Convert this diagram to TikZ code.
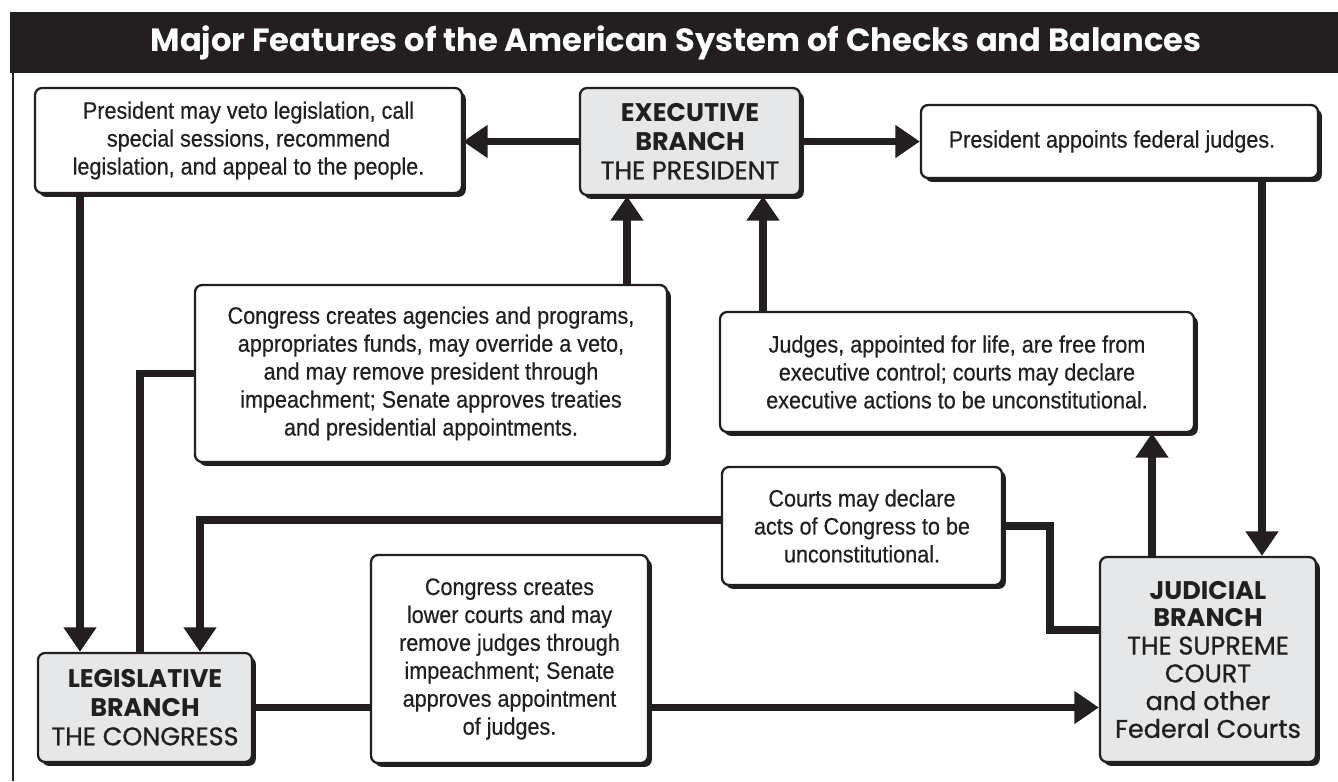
\documentclass[tikz,border=0pt]{standalone}
\usepackage{fontspec}
\setmainfont{Liberation Sans}[FakeStretch=0.91,FakeBold=0.5]
\newfontfamily\brfont{Poppins}[UprightFeatures={FakeBold=0.9}]
\usetikzlibrary{arrows.meta}
\usetikzlibrary{shadows}
\definecolor{ink}{HTML}{231F20}
\definecolor{branchgray}{HTML}{E6E7E8}

\begin{document}
\begin{tikzpicture}[x=0.02cm,y=-0.02cm,
  box/.style={draw=ink,line width=1.3pt,rounded corners=4pt,fill=white,align=center,inner sep=0pt,
    drop shadow={shadow xshift=2.2pt,shadow yshift=-2.2pt,fill=ink,opacity=1},
    font=\fontsize{13.5}{15.9}\selectfont,text=ink},
  branch/.style={box,fill=branchgray,font=\brfont\fontsize{14.5}{16.4}\selectfont},
  link/.style={draw=ink,line width=4.5pt},
  arr/.style={link,-{Triangle[width=18pt,length=14pt]}}]
\useasboundingbox (0,0) rectangle (1338,781);

% ---------- frame and title ----------
\fill[ink] (10,12) rectangle (1338,73);
\draw[ink,line width=1.1pt] (13,73) -- (13,781);
\node[text=white,font=\brfont\bfseries\fontsize{18.3}{20}\selectfont] (title) at (676,43)
  {Major Features of the American System of Checks and Balances};

% ---------- boxes ----------
\node[branch,minimum width=4.4cm,minimum height=2.14cm] (exec) at (690,141.5)
  {{\bfseries EXECUTIVE}\\{\bfseries BRANCH}\\THE PRESIDENT};
\node[branch,minimum width=4.28cm,minimum height=2.18cm] (legis) at (145,707.5)
  {{\bfseries LEGISLATIVE}\\{\bfseries BRANCH}\\THE CONGRESS};
\node[branch,minimum width=4.32cm,minimum height=4.1cm,font=\brfont\fontsize{14.5}{15.8}\selectfont] (judic) at (1208,659.5)
  {{\bfseries JUDICIAL}\\{\bfseries BRANCH}\\THE SUPREME\\COURT\\and other\\Federal Courts};

\node[box,minimum width=8.54cm,minimum height=2.1cm] (veto) at (248.5,140.5)
  {President may veto legislation, call\\special sessions, recommend\\legislation, and appeal to the people.};
\node[box,minimum width=7.94cm,minimum height=1.46cm] (appoint) at (1119.5,141.5)
  {President appoints federal judges.\hspace*{0.3cm}};
\node[box,minimum width=9.44cm,minimum height=3.54cm] (agencies) at (431,373.5)
  {Congress creates agencies and programs,\\appropriates funds, may override a veto,\\and may remove president through\\impeachment; Senate approves treaties\\and presidential appointments.};
\node[box,minimum width=9.48cm,minimum height=2.4cm] (forlife) at (957,372)
  {Judges, appointed for life, are free from\\executive control; courts may declare\\executive actions to be unconstitutional.};
\node[box,minimum width=5.6cm,minimum height=2.36cm] (review) at (862,526)
  {Courts may declare\\acts of Congress to be\\unconstitutional.};
\node[box,minimum width=5.54cm,minimum height=4.16cm] (lower) at (509.5,659)
  {Congress creates\\lower courts and may\\remove judges through\\impeachment; Senate\\approves appointment\\of judges.};

% lanes of the vertical connectors
\coordinate (laneA) at (80,0);
\coordinate (laneB) at (140,0);
\coordinate (laneC) at (200,0);
\coordinate (laneD) at (627,0);
\coordinate (laneE) at (763,0);
\coordinate (laneF) at (1152,0);
\coordinate (laneG) at (1262,0);
\coordinate (rowR) at (0,520);
\coordinate (bend) at (1050,630);

% ---------- connectors ----------
\draw[arr] (exec.west) -- (exec.west -| veto.east);
\draw[arr] (exec.east) -- (exec.east -| appoint.west);
\draw[arr] (veto.south -| laneA) -- (legis.north -| laneA);
\draw[arr] (agencies.north -| laneD) -- (exec.south -| laneD);
\draw[link] (agencies.west) -| (legis.north -| laneB);
\draw[arr] (forlife.north -| laneE) -- (exec.south -| laneE);
\draw[arr] (judic.north -| laneF) -- (forlife.south -| laneF);
\draw[arr] (appoint.south -| laneG) -- (judic.north -| laneG);
\draw[arr] (review.west |- rowR) -| (legis.north -| laneC);
\draw[link] (review.east) -| (bend) -- (bend -| judic.west);
\draw[link] (legis.east) -- (legis.east -| lower.west);
\draw[arr] (legis.east -| lower.east) -- (legis.east -| judic.west);

\end{tikzpicture}
\end{document}
